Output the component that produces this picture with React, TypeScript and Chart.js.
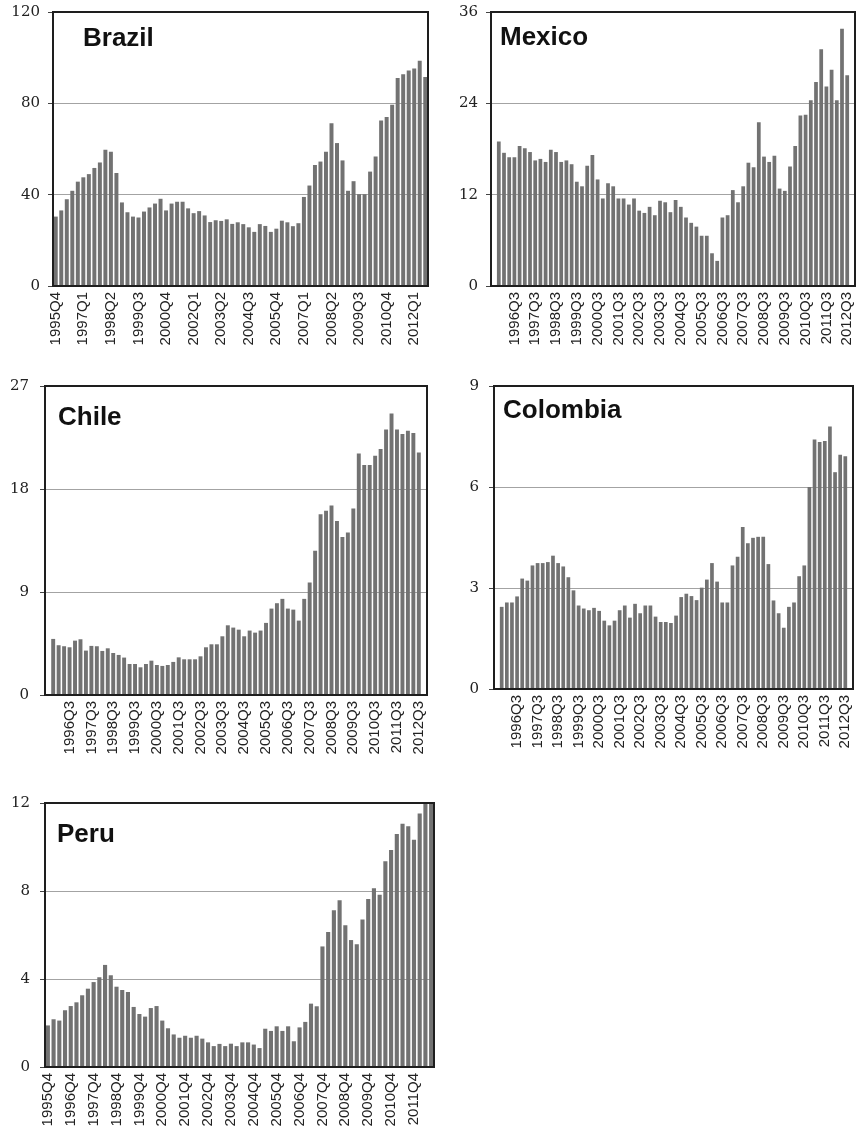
import React, { useEffect, useRef } from 'react';
import { Chart, registerables } from 'chart.js';

Chart.register(...registerables);

const QUARTERS = [
  '1995Q4',
  '1996Q1', '1996Q2', '1996Q3', '1996Q4',
  '1997Q1', '1997Q2', '1997Q3', '1997Q4',
  '1998Q1', '1998Q2', '1998Q3', '1998Q4',
  '1999Q1', '1999Q2', '1999Q3', '1999Q4',
  '2000Q1', '2000Q2', '2000Q3', '2000Q4',
  '2001Q1', '2001Q2', '2001Q3', '2001Q4',
  '2002Q1', '2002Q2', '2002Q3', '2002Q4',
  '2003Q1', '2003Q2', '2003Q3', '2003Q4',
  '2004Q1', '2004Q2', '2004Q3', '2004Q4',
  '2005Q1', '2005Q2', '2005Q3', '2005Q4',
  '2006Q1', '2006Q2', '2006Q3', '2006Q4',
  '2007Q1', '2007Q2', '2007Q3', '2007Q4',
  '2008Q1', '2008Q2', '2008Q3', '2008Q4',
  '2009Q1', '2009Q2', '2009Q3', '2009Q4',
  '2010Q1', '2010Q2', '2010Q3', '2010Q4',
  '2011Q1', '2011Q2', '2011Q3', '2011Q4',
  '2012Q1', '2012Q2', '2012Q3',
];

const BRAZIL = [
  30.4, 33.1, 38.0, 41.7, 45.7, 47.6, 49.0, 51.7, 54.1, 59.7,
  58.8, 49.5, 36.6, 32.3, 30.4, 30.0, 32.6, 34.4, 36.1, 38.2,
  33.1, 36.1, 36.9, 36.9, 34.0, 31.9, 32.8, 30.9, 28.0, 28.8,
  28.5, 29.2, 27.2, 27.9, 27.1, 25.7, 23.7, 27.1, 26.3, 23.7,
  25.1, 28.6, 27.9, 26.2, 27.5, 39.0, 44.0, 53.0, 54.5, 58.8,
  71.3, 62.6, 55.0, 41.7, 45.9, 40.2, 40.2, 50.1, 56.7, 72.5,
  74.0, 79.4, 91.1, 92.7, 94.4, 95.3, 98.7, 91.5,
];

const MEXICO = [
  19.0, 17.5, 16.9, 16.9, 18.4, 18.1, 17.6, 16.5, 16.7, 16.3,
  17.9, 17.6, 16.3, 16.5, 16.0, 13.7, 13.1, 15.8, 17.2, 14.0,
  11.5, 13.5, 13.1, 11.5, 11.5, 10.7, 11.5, 9.9, 9.6, 10.4,
  9.3, 11.2, 11.0, 9.7, 11.3, 10.4, 9.0, 8.3, 7.8, 6.6,
  6.6, 4.3, 3.3, 9.0, 9.3, 12.6, 11.0, 13.1, 16.2, 15.6,
  21.5, 17.0, 16.3, 17.1, 12.8, 12.5, 15.7, 18.4, 22.4, 22.5,
  24.4, 26.8, 31.1, 26.2, 28.4, 24.4, 33.8, 27.7,
];

const CHILE = [
  4.9, 4.35, 4.26, 4.17, 4.75, 4.87, 3.88, 4.29, 4.26, 3.85,
  4.08, 3.67, 3.5, 3.27, 2.71, 2.71, 2.42, 2.71, 3.0, 2.62,
  2.54, 2.62, 2.89, 3.29, 3.12, 3.12, 3.12, 3.38, 4.17, 4.43,
  4.43, 5.13, 6.09, 5.89, 5.71, 5.13, 5.63, 5.45, 5.63, 6.3,
  7.55, 8.02, 8.4, 7.55, 7.46, 6.5, 8.4, 9.83, 12.6, 15.8,
  16.1, 16.56, 15.2, 13.8, 14.2, 16.3, 21.1, 20.1, 20.1, 20.9,
  21.5, 23.2, 24.6, 23.2, 22.8, 23.1, 22.9, 21.2,
];

const COLOMBIA = [
  2.44, 2.57, 2.57, 2.75, 3.28, 3.22, 3.67, 3.74, 3.74, 3.77,
  3.96, 3.74, 3.64, 3.32, 2.93, 2.48, 2.39, 2.34, 2.41, 2.32,
  2.03, 1.89, 2.03, 2.34, 2.48, 2.12, 2.53, 2.25, 2.48, 2.48,
  2.15, 1.99, 1.99, 1.96, 2.18, 2.73, 2.83, 2.76, 2.64, 3.01,
  3.25, 3.74, 3.19, 2.57, 2.57, 3.67, 3.93, 4.81, 4.33, 4.49,
  4.52, 4.52, 3.71, 2.63, 2.25, 1.82, 2.44, 2.57, 3.35, 3.67,
  6.0, 7.41, 7.34, 7.37, 7.8, 6.44, 6.96, 6.91,
];

const PERU = [
  1.89, 2.17, 2.11, 2.58, 2.77, 2.94, 3.26, 3.56, 3.86, 4.08,
  4.64, 4.17, 3.65, 3.5, 3.41, 2.73, 2.41, 2.29, 2.68, 2.77,
  2.11, 1.76, 1.48, 1.33, 1.42, 1.33, 1.42, 1.29, 1.12, 0.95,
  1.05, 0.95, 1.06, 0.95, 1.12, 1.12, 1.02, 0.86, 1.74, 1.64,
  1.85, 1.64, 1.85, 1.17, 1.8, 2.05, 2.88, 2.76, 5.48, 6.14,
  7.12, 7.58, 6.44, 5.77, 5.58, 6.7, 7.64, 8.12, 7.83, 9.35,
  9.86, 10.59, 11.06, 10.94, 10.33, 11.52, 12.3, 12.5,
];

// Tick labels shown on each category axis
const BRAZIL_X_TICKS = [
  '1995Q4', '1997Q1', '1998Q2', '1999Q3', '2000Q4', '2002Q1', '2003Q2',
  '2004Q3', '2005Q4', '2007Q1', '2008Q2', '2009Q3', '2010Q4', '2012Q1',
];
const Q3_X_TICKS = [
  '1996Q3', '1997Q3', '1998Q3', '1999Q3', '2000Q3', '2001Q3', '2002Q3', '2003Q3',
  '2004Q3', '2005Q3', '2006Q3', '2007Q3', '2008Q3', '2009Q3', '2010Q3', '2011Q3', '2012Q3',
];
const PERU_X_TICKS = [
  '1995Q4', '1996Q4', '1997Q4', '1998Q4', '1999Q4', '2000Q4', '2001Q4', '2002Q4', '2003Q4',
  '2004Q4', '2005Q4', '2006Q4', '2007Q4', '2008Q4', '2009Q4', '2010Q4', '2011Q4',
];

// Value-axis ticks
const BRAZIL_Y_TICKS = [0, 40, 80, 120];
const MEXICO_Y_TICKS = [0, 12, 24, 36];
const CHILE_Y_TICKS = [0, 9, 18, 27];
const COLOMBIA_Y_TICKS = [0, 3, 6, 9];
const PERU_Y_TICKS = [0, 4, 8, 12];

type Panel = {
  title: string;
  data: number[];
  xTicks: string[];
  yTicks: number[];
  left: number;
  top: number;
  yAxisW: number;
  plotW: number;
  plotH: number;
  padTop: number;
  padRight: number;
  xAxisH: number;
  tickPad: number;
  edgeSlots: number;
  titleX: number;
  titleBaseline: number;
};

const PANELS: Panel[] = [
  { title: 'Brazil', data: BRAZIL, xTicks: BRAZIL_X_TICKS, yTicks: BRAZIL_Y_TICKS,
    left: 0, top: 0, yAxisW: 53, plotW: 375, plotH: 274, padTop: 12, padRight: 12, xAxisH: 70, tickPad: 8,
    edgeSlots: 0, titleX: 83, titleBaseline: 46 },
  { title: 'Mexico', data: MEXICO, xTicks: Q3_X_TICKS, yTicks: MEXICO_Y_TICKS,
    left: 446, top: 0, yAxisW: 45, plotW: 364, plotH: 274, padTop: 12, padRight: 5, xAxisH: 70, tickPad: 8,
    edgeSlots: 1, titleX: 500, titleBaseline: 45 },
  { title: 'Chile', data: CHILE, xTicks: Q3_X_TICKS, yTicks: CHILE_Y_TICKS,
    left: 0, top: 372, yAxisW: 45, plotW: 382, plotH: 309, padTop: 14, padRight: 13, xAxisH: 75, tickPad: 11,
    edgeSlots: 1, titleX: 58, titleBaseline: 425 },
  { title: 'Colombia', data: COLOMBIA, xTicks: Q3_X_TICKS, yTicks: COLOMBIA_Y_TICKS,
    left: 448, top: 372, yAxisW: 46, plotW: 359, plotH: 303, padTop: 14, padRight: 7, xAxisH: 75, tickPad: 10,
    edgeSlots: 1, titleX: 503, titleBaseline: 418 },
  { title: 'Peru', data: PERU, xTicks: PERU_X_TICKS, yTicks: PERU_Y_TICKS,
    left: 0, top: 789, yAxisW: 45, plotW: 389, plotH: 264, padTop: 14, padRight: 10, xAxisH: 78, tickPad: 10,
    edgeSlots: 0, titleX: 57, titleBaseline: 842 },
];

const framePlugin = {
  id: 'frame',
  afterDraw(chart: any) {
    const { ctx, chartArea: a } = chart;
    ctx.save();
    ctx.strokeStyle = '#1e1e1e';
    ctx.lineWidth = 2;
    ctx.strokeRect(a.left, a.top, a.right - a.left, a.bottom - a.top);
    ctx.restore();
  },
};

function BarPanel({ p }: { p: Panel }) {
  const ref = useRef<HTMLCanvasElement>(null);
  const width = p.yAxisW + p.plotW + p.padRight;
  const height = p.padTop + p.plotH + p.xAxisH;

  useEffect(() => {
    const yMax = p.yTicks[p.yTicks.length - 1];
    const yStep = p.yTicks[1] - p.yTicks[0];
    const chart = new Chart(ref.current as HTMLCanvasElement, {
      type: 'bar',
      data: {
        labels: QUARTERS,
        datasets: [
          {
            data: p.data,
            backgroundColor: '#727272',
            borderWidth: 0,
            barPercentage: 0.72,
            categoryPercentage: 1,
          },
        ],
      },
      options: {
        animation: false,
        responsive: false,
        maintainAspectRatio: false,
        devicePixelRatio: 1,
        layout: { padding: { top: p.padTop, right: p.padRight, left: 0, bottom: 0 } },
        plugins: {
          legend: { display: false },
          tooltip: { enabled: false },
          title: { display: false },
        },
        scales: {
          x: {
            grid: { display: false, drawTicks: false },
            border: { display: true, color: '#333', width: 2 },
            ticks: {
              autoSkip: false,
              minRotation: 90,
              maxRotation: 90,
              padding: 6,
              color: '#222',
              font: { family: 'Liberation Sans', size: 15 },
              callback: (_v: any, i: number) => (p.xTicks.includes(QUARTERS[i]) ? QUARTERS[i] : ''),
            },
            afterBuildTicks: (s: any) => {
              // empty category slot at each end of the axis
              s._startValue -= p.edgeSlots;
              s._valueRange += 2 * p.edgeSlots;
            },
            afterFit: (s: any) => {
              s.height = p.xAxisH;
              s.paddingLeft = 0;
              s.paddingRight = 0;
            },
          },
          y: {
            min: 0,
            max: yMax,
            ticks: {
              stepSize: yStep,
              padding: p.tickPad,
              color: '#222',
              font: { family: 'DejaVu Serif', size: 15 },
            },
            grid: { color: '#a3a3a3', tickColor: '#444', tickLength: 5, lineWidth: 1 },
            border: { display: true, color: '#333', width: 2 },
            afterFit: (s: any) => {
              s.width = p.yAxisW;
              s.paddingTop = 0;
              s.paddingBottom = 0;
            },
          },
        },
      },
      plugins: [framePlugin],
    } as any);
    return () => chart.destroy();
  }, [p]);

  return (
    <canvas
      ref={ref}
      width={width}
      height={height}
      style={{ position: 'absolute', left: p.left, top: p.top, width, height }}
    />
  );
}

export default function App() {
  return (
    <div
      style={{
        position: 'absolute',
        left: 0,
        top: 0,
        width: 860,
        height: 1145,
        background: '#fff',
        overflow: 'hidden',
      }}
    >
      {PANELS.map((p) => (
        <BarPanel key={p.title} p={p} />
      ))}
      {PANELS.map((p) => (
        <div
          key={p.title + '-t'}
          style={{
            position: 'absolute',
            left: p.titleX,
            top: p.titleBaseline - 22,
            fontFamily: 'Liberation Sans, Arial, sans-serif',
            fontWeight: 700,
            fontSize: 26,
            lineHeight: '26px',
            color: '#111',
            whiteSpace: 'nowrap',
          }}
        >
          {p.title}
        </div>
      ))}
    </div>
  );
}
